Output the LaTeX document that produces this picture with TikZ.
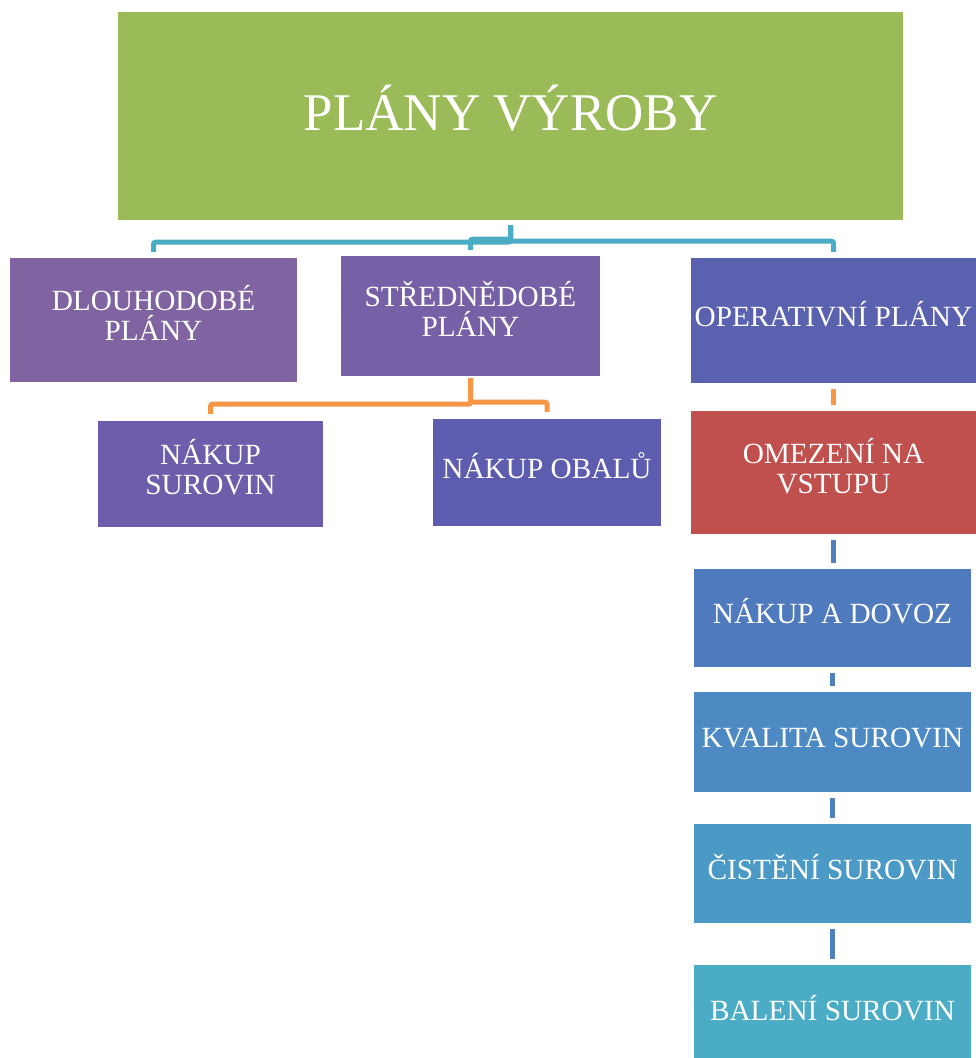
\documentclass[tikz,border=0pt]{standalone}
\usepackage{fontspec}
\setmainfont{Liberation Serif}
\usetikzlibrary{calc}
\definecolor{cGreen}{HTML}{9BBB59}
\definecolor{cDl}{HTML}{8064A2}
\definecolor{cSt}{HTML}{7761A6}
\definecolor{cOp}{HTML}{5A62B0}
\definecolor{cNs}{HTML}{6E5DAA}
\definecolor{cNo}{HTML}{5E5CAF}
\definecolor{cOm}{HTML}{C0504D}
\definecolor{cNd}{HTML}{4F7BBE}
\definecolor{cKv}{HTML}{4D89C2}
\definecolor{cCi}{HTML}{4B9AC5}
\definecolor{cBa}{HTML}{4BACC6}
\definecolor{cTeal}{HTML}{4BACC6}
\definecolor{cOrange}{HTML}{F79646}
\definecolor{cBlue}{HTML}{4F81BD}
\begin{document}
\begin{tikzpicture}[x=1pt,y=-1pt,
  box/.style={draw=none, inner sep=0pt, text=white, align=center,
    font=\fontsize{29.3}{30}\selectfont, text height=19.5pt, text depth=8pt},
  twoline/.style={text height=49.5pt},
  link/.style={line width=5pt, rounded corners=2pt},
  gap/.style={line width=5pt, shorten <=6pt, shorten >=6pt}]
\useasboundingbox (0,0) rectangle (976,1058);

% main box
\node[box, fill=cGreen, minimum width=785pt, minimum height=208pt,
  font=\fontsize{53}{60}\selectfont, text height=35pt, text depth=6pt]
  (top) at (510.5,116) {PLÁNY VÝROBY};

% second level
\node[box, twoline, fill=cDl, minimum width=287pt, minimum height=124pt] (dl) at (153.5,320) {DLOUHODOBÉ\\PLÁNY};
\node[box, twoline, fill=cSt, minimum width=259pt, minimum height=120pt] (st) at (470.5,316) {STŘEDNĚDOBÉ\\PLÁNY};
\node[box, fill=cOp, minimum width=285pt, minimum height=125pt] (op) at (833.5,320.5) {OPERATIVNÍ PLÁNY};

% third level
\node[box, twoline, fill=cNs, minimum width=225pt, minimum height=106pt] (ns) at (210.5,474) {NÁKUP\\SUROVIN};
\node[box, fill=cNo, minimum width=228pt, minimum height=107pt] (no) at (547,472.5) {NÁKUP OBALŮ};

% operative chain
\node[box, twoline, fill=cOm, minimum width=285pt, minimum height=123pt] (om) at (833.5,472.5) {OMEZENÍ NA\\VSTUPU};
\node[box, fill=cNd, minimum width=277pt, minimum height=98pt] (nd) at (832.5,618) {NÁKUP A DOVOZ};
\node[box, fill=cKv, minimum width=277pt, minimum height=100pt] (kv) at (832.5,742) {KVALITA SUROVIN};
\node[box, fill=cCi, minimum width=277pt, minimum height=99pt] (ci) at (832.5,873.5) {ČISTĚNÍ SUROVIN};
\node[box, fill=cBa, minimum width=277pt, minimum height=100pt] (ba) at (832.5,1015) {BALENÍ SUROVIN};

% connectors from the main box
\draw[link, cTeal, shorten <=5pt, shorten >=6pt] (top.south) -- ++(0,22) -| (dl.north);
\draw[link, cTeal, shorten <=5pt, shorten >=6pt] (top.south) -- ++(0,19) -| (st.north);
\draw[link, cTeal, shorten <=5pt, shorten >=6pt] (top.south) -- ++(0,21) -| (op.north);

% connectors from the medium-term box
\draw[link, cOrange, shorten <=2pt, shorten >=7pt] (st.south) -- ++(0,28) -| (ns.north);
\draw[link, cOrange, shorten <=2pt, shorten >=7pt] (st.south) -- ++(0,26) -| (no.north);

% operative chain links
\draw[gap, cOrange] (op.south) -- (om.north);
\draw[gap, cBlue] (om.south) -- (om.south |- nd.north);
\draw[gap, cBlue] (nd.south) -- (kv.north);
\draw[gap, cBlue] (kv.south) -- (ci.north);
\draw[gap, cBlue] (ci.south) -- (ba.north);
\end{tikzpicture}
\end{document}
